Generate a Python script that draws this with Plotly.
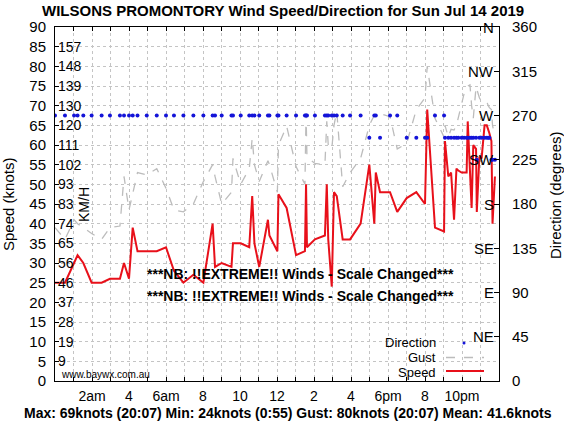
import plotly.graph_objects as go

# ---- data (hours since midnight, knots, degrees) ----
hours = [0.00, 0.54, 1.03, 1.22, 1.53, 1.98, 2.52, 2.97, 3.51, 3.73, 4.00, 4.20, 4.46, 4.96,
         5.50, 6.00, 6.43, 6.94, 7.48, 8.02, 8.52, 8.65, 9.01, 9.54, 9.62, 10.04, 10.50, 10.66,
         10.78, 11.04, 11.51, 11.59, 12.02, 12.08, 12.52, 13.03, 13.51, 13.57, 13.62, 14.05,
         14.59, 14.69, 14.77, 14.96, 15.08, 15.23, 15.55, 15.95, 16.52, 16.99, 17.26, 17.34,
         17.57, 18.11, 18.50, 19.01, 19.53, 20.00, 20.12, 20.54, 21.03, 21.08, 21.26, 21.41,
         21.57, 21.70, 21.80, 21.98, 22.11, 22.25, 22.31, 22.43, 22.52, 22.61, 22.76, 22.80,
         22.94, 23.06, 23.22, 23.34, 23.42, 23.48, 23.59, 23.65, 23.78]
speed = [25, 25, 30, 32, 30, 25, 25, 26, 26, 30, 26, 39, 33, 33,
         33, 34, 28, 25, 27, 25, 40, 29, 30, 29, 35, 35, 34, 47,
         35, 29, 41, 37, 33, 47.5, 44, 32, 33, 50, 34, 36,
         37, 50, 36, 24, 48, 47, 36, 36, 40, 55, 40, 53,
         48, 48, 43, 46.5, 48, 45, 69, 39, 38, 61, 52, 53,
         41, 54, 53.5, 53, 53, 53, 66, 54, 44, 60, 59, 43,
         57, 56.6, 65, 65, 64, 63, 61, 40, 52]
gust = [39, 36, 41, 40, 39, 37.5, 36, 39, 39.4, 52, 43.5, 48, 53, 52.4,
        54, 49, 43.5, 43, 45, 50.7, 55, 52, 45, 48, 56.6, 50, 54, 61.7,
        55, 50.7, 56, 55, 48, 60, 64.8, 54.5, 50, 68, 57, 55.3,
        55, 66, 60, 59, 65, 68.5, 49.4, 53, 56.6, 65, 67.6, 67.6,
        68, 67.2, 59, 60.4, 69, 72, 80, 66.8, 62, 65, 62, 64,
        63.8, 65, 67, 70, 73, 74.8, 75, 75.3, 70, 66.8, 74.8, 74,
        72, 71, 71, 71, 70, 69.5, 69, 65, 62]
direction = [270] * 49 + [247.5, 270, 270, 247.5, 270, 270, 247.5, 247.5, 247.5, 247.5,
                          270, 270, 247.5, 247.5, 247.5, 247.5, 247.5, 247.5, 247.5, 247.5,
                          247.5, 247.5, 247.5, 247.5, 247.5, 247.5, 225, 247.5, 247.5,
                          247.5, 247.5, 247.5, 247.5, 225, 225, 225]

hour_ticks = [2, 4, 6, 8, 10, 12, 14, 16, 18, 20, 22]
hour_labels = ["2am", "4", "6am", "8", "10", "12", "2", "4", "6pm", "8", "10pm"]
knot_ticks = list(range(0, 91, 5))
kmh_ticks = list(range(5, 90, 5))
kmh_labels = [str(int(k * 1.852 + 0.5)) for k in kmh_ticks]
deg_ticks = list(range(0, 361, 45))
compass_ticks = [45, 90, 135, 180, 225, 270, 315, 360]
compass_labels = ["NE", "E", "SE", "S", "SW", "W", "NW", "N"]

FONT = "Liberation Sans"
L, R, T, B = 55, 65, 27, 43
PW, PH = 564 - L - R, 424 - T - B


def px(xp):
    return (xp - L) / PW


def py(yp):
    return (424 - B - yp) / PH


fig = go.Figure()
fig.add_trace(go.Scatter(x=hours, y=direction, yaxis="y2", mode="markers",
                         marker=dict(color="#1414d8", size=4), name="Direction"))
fig.add_trace(go.Scatter(x=hours, y=gust, mode="lines",
                         line=dict(color="#bcbcbc", width=1.3, dash="dash"), name="Gust"))
fig.add_trace(go.Scatter(x=hours, y=speed, mode="lines",
                         line=dict(color="#e8101a", width=2), name="Speed"))

grid = dict(showgrid=True, gridcolor="#c4c4c4", griddash="dot", gridwidth=1)
fig.update_layout(
    width=564, height=424, margin=dict(l=L, r=R, t=T, b=B),
    paper_bgcolor="white", plot_bgcolor="white", showlegend=False,
    font=dict(family=FONT, size=14, color="black"),
    xaxis=dict(range=[0, 24], tickvals=hour_ticks, ticktext=hour_labels,
               ticks="inside", ticklen=4, tickcolor="black", showline=True,
               linecolor="black", linewidth=1, mirror="ticks", zeroline=False,
               tickfont=dict(size=14), ticklabelstandoff=2,
               minor=dict(dtick=1, tick0=0, ticks="inside", ticklen=4,
                          tickcolor="black", showgrid=True, gridcolor="#c4c4c4",
                          griddash="dot"),
               **grid),
    yaxis=dict(range=[0, 90], tickvals=knot_ticks, ticks="inside", ticklen=4,
               tickcolor="black", showline=True, linecolor="black", linewidth=1,
               mirror=True, zeroline=False, tickfont=dict(size=15),
               ticklabelstandoff=5, **grid),
    yaxis2=dict(range=[0, 360], tickvals=deg_ticks, overlaying="y", side="right",
                anchor="x", ticks="inside", ticklen=5, tickcolor="black",
                showgrid=False, zeroline=False,
                tickfont=dict(size=15), ticklabelstandoff=12),
)

# km/h labels inside the left axis
for k, lab in zip(kmh_ticks, kmh_labels):
    fig.add_annotation(text=lab, x=0, y=k, xref="x", yref="y", showarrow=False,
                       xanchor="left", yanchor="middle", xshift=1,
                       font=dict(family=FONT, size=14, color="black"))
# compass labels inside the right axis
for d, lab in zip(compass_ticks, compass_labels):
    fig.add_annotation(text=lab, x=1, y=d, xref="paper", yref="y2", showarrow=False,
                       xanchor="right", yanchor="middle", xshift=-3,
                       font=dict(family=FONT, size=15, color="black"))

ann = [
    dict(text="<b>WILSONS PROMONTORY Wind Speed/Direction for Sun Jul 14 2019</b>",
         x=px(283), y=py(10), size=15),
    dict(text="<b>Max: 69knots (20:07) Min: 24knots (0:55) Gust: 80knots (20:07) Mean: 41.6knots</b>",
         x=px(288), y=py(413), size=14),
    dict(text="<b>***NB: !!EXTREME!! Winds - Scale Changed***</b>", x=px(300), y=py(274), size=14),
    dict(text="<b>***NB: !!EXTREME!! Winds - Scale Changed***</b>", x=px(300), y=py(296), size=14),
    dict(text="www.baywx.com.au", x=px(60), y=py(374), size=10, xanchor="left"),
    dict(text="KM/H", x=px(84), y=py(205), size=14, textangle=-90),
    dict(text="Speed (knots)", x=px(9), y=py(205), size=15, textangle=-90),
    dict(text="Direction (degrees)", x=px(556), y=py(195), size=15, textangle=-90),
    dict(text="Direction", x=px(437), y=py(342.5), size=13, xanchor="right"),
    dict(text="Gust", x=px(437), y=py(357.5), size=13, xanchor="right"),
    dict(text="Speed", x=px(437), y=py(372.5), size=13, xanchor="right"),
]
for a in ann:
    fig.add_annotation(text=a["text"], x=a["x"], y=a["y"], xref="paper", yref="paper",
                       showarrow=False, xanchor=a.get("xanchor", "center"), yanchor="middle",
                       textangle=a.get("textangle", 0), borderpad=0,
                       font=dict(family=FONT, size=a["size"], color="black"))

# legend samples
fig.add_shape(type="line", xref="paper", yref="paper", x0=px(446), x1=px(484),
              y0=py(357.5), y1=py(357.5), line=dict(color="#bcbcbc", width=1.3, dash="dash"))
fig.add_shape(type="line", xref="paper", yref="paper", x0=px(446), x1=px(484),
              y0=py(371), y1=py(371), line=dict(color="#e8101a", width=2))
fig.add_shape(type="circle", xref="paper", yref="paper", x0=px(462.5), x1=px(465.5),
              y0=py(344.5), y1=py(341.5), fillcolor="#1414d8", line=dict(width=0))

fig.write_html("out.html")
